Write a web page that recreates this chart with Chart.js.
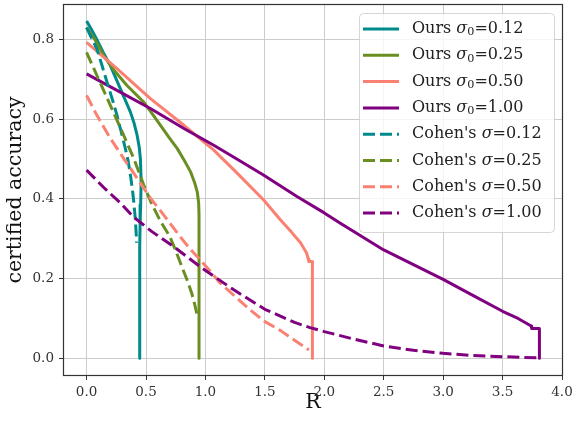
<!DOCTYPE html>
<html><head><meta charset="utf-8">
<script src="https://cdn.jsdelivr.net/npm/chart.js@4/dist/chart.umd.min.js"></script>
<style>html,body{margin:0;padding:0;background:#fff}#wrap{width:573px;height:423px;position:relative}</style>
</head><body><div id="wrap"><canvas id="c" width="573" height="423"></canvas></div>
<script>
// ---- data ----
const xTicks = [0.0, 0.5, 1.0, 1.5, 2.0, 2.5, 3.0, 3.5, 4.0];
const yTicks = [0.0, 0.2, 0.4, 0.6, 0.8];

const seriesLabels = ["Ours σ₀=0.12", "Ours σ₀=0.25", "Ours σ₀=0.50", "Ours σ₀=1.00",
                      "Cohen's σ=0.12", "Cohen's σ=0.25", "Cohen's σ=0.50", "Cohen's σ=1.00"];
const seriesColors = ["#008B8B", "#6B8E23", "#FA8072", "#800080",
                      "#008B8B", "#6B8E23", "#FA8072", "#800080"];

const ours012R   = [0, 0.04, 0.087, 0.14, 0.2, 0.284, 0.33, 0.369, 0.4, 0.425, 0.443, 0.453, 0.459, 0.455, 0.45, 0.447, 0.447];
const ours012Acc = [0.847, 0.826, 0.80, 0.768, 0.735, 0.677, 0.645, 0.618, 0.59, 0.56, 0.53, 0.50, 0.443, 0.385, 0.33, 0.28, 0.0];

const ours025R   = [0, 0.07, 0.143, 0.24, 0.34, 0.481, 0.55, 0.622, 0.69, 0.762, 0.82, 0.875, 0.91, 0.931, 0.943, 0.946, 0.946];
const ours025Acc = [0.831, 0.80, 0.76, 0.72, 0.685, 0.643, 0.615, 0.585, 0.556, 0.527, 0.498, 0.468, 0.44, 0.418, 0.39, 0.36, 0.0];

const ours050R   = [0, 0.256, 0.537, 0.819, 1.07, 1.25, 1.488, 1.63, 1.72, 1.8, 1.85, 1.865, 1.87, 1.9, 1.9];
const ours050Acc = [0.793, 0.727, 0.652, 0.585, 0.5225, 0.47, 0.398, 0.348, 0.318, 0.29, 0.265, 0.25, 0.243, 0.243, 0.0];

const ours100R   = [0, 0.256, 0.537, 0.819, 1.07, 1.25, 1.488, 1.77, 2.0, 2.135, 2.5, 2.75, 3.0, 3.25, 3.5, 3.63, 3.7, 3.74, 3.745, 3.81, 3.81];
const ours100Acc = [0.714, 0.6725, 0.627, 0.577, 0.535, 0.503, 0.46, 0.406, 0.365, 0.339, 0.272, 0.235, 0.198, 0.158, 0.118, 0.10, 0.088, 0.081, 0.075, 0.075, 0.0];

const cohen012R   = [0, 0.04, 0.087, 0.13, 0.172, 0.215, 0.256, 0.29, 0.326, 0.35, 0.369, 0.385, 0.397, 0.41, 0.418, 0.42];
const cohen012Acc = [0.83, 0.805, 0.777, 0.735, 0.693, 0.652, 0.61, 0.57, 0.527, 0.495, 0.46, 0.425, 0.393, 0.35, 0.31, 0.29];

const cohen025R   = [0, 0.087, 0.2, 0.312, 0.397, 0.481, 0.546, 0.62, 0.70, 0.75, 0.80, 0.845, 0.884, 0.91, 0.926, 0.93];
const cohen025Acc = [0.768, 0.71, 0.635, 0.56, 0.502, 0.435, 0.389, 0.345, 0.306, 0.27, 0.231, 0.197, 0.164, 0.135, 0.114, 0.105];

const cohen050R   = [0, 0.087, 0.2, 0.312, 0.425, 0.537, 0.616, 0.7, 0.785, 0.87, 0.954, 1.05, 1.12, 1.25, 1.375, 1.5, 1.63, 1.75, 1.87];
const cohen050Acc = [0.66, 0.61, 0.552, 0.502, 0.452, 0.402, 0.3725, 0.34, 0.306, 0.275, 0.2475, 0.215, 0.19, 0.155, 0.122, 0.092, 0.07, 0.045, 0.021];

const cohen100R   = [0, 0.14, 0.284, 0.39, 0.55, 0.73, 0.95, 1.1, 1.235, 1.5, 1.75, 1.88, 2.0, 2.25, 2.5, 2.75, 3.0, 3.25, 3.5, 3.8];
const cohen100Acc = [0.4725, 0.43, 0.39, 0.356, 0.318, 0.281, 0.231, 0.2, 0.1725, 0.123, 0.09, 0.077, 0.067, 0.048, 0.031, 0.02, 0.0125, 0.007, 0.004, 0.001];

const seriesR   = [ours012R, ours025R, ours050R, ours100R, cohen012R, cohen025R, cohen050R, cohen100R];
const seriesAcc = [ours012Acc, ours025Acc, ours050Acc, ours100Acc, cohen012Acc, cohen025Acc, cohen050Acc, cohen100Acc];

// ---- chart ----
const SERIF = "'DejaVu Serif', serif";
const datasets = seriesLabels.map((lab, i) => ({
  label: lab,
  data: seriesR[i].map((r, k) => ({x: r, y: seriesAcc[i][k]})),
  borderColor: seriesColors[i],
  backgroundColor: seriesColors[i],
  borderWidth: 3,
  borderDash: i >= 4 ? [12, 5] : [],
  borderCapStyle: 'butt',
  borderJoinStyle: 'round',
  pointRadius: 0,
  fill: false,
  tension: 0,
  showLine: true,
  order: -i
}));

const zeroPad = s => { s.paddingLeft = 0; s.paddingRight = 0; s.paddingTop = 0; s.paddingBottom = 0; };

const framePlugin = {
  id: 'frame',
  afterDatasetsDraw(chart) {
    const {ctx, chartArea: a} = chart;
    ctx.save();
    ctx.strokeStyle = '#333';
    ctx.lineWidth = 1.2;
    ctx.strokeRect(a.left - 0.5, a.top - 0.5, a.right - a.left + 1, a.bottom - a.top + 1);
    ctx.restore();
  }
};

const legendPlugin = {
  id: 'mplLegend',
  afterDraw(chart) {
    const ctx = chart.ctx;
    const bx = 359, by = 13, bw = 195, bh = 219, r = 4;
    ctx.save();
    ctx.beginPath();
    ctx.roundRect(bx + 0.5, by + 0.5, bw, bh, r);
    ctx.fillStyle = 'rgba(255,255,255,0.8)';
    ctx.fill();
    ctx.strokeStyle = 'rgba(204,204,204,0.8)';
    ctx.lineWidth = 1;
    ctx.stroke();
    const fs = 16;
    chart.data.datasets.forEach((ds, i) => {
      const y = 29 + i * 26.3;
      ctx.beginPath();
      ctx.setLineDash(ds.borderDash || []);
      ctx.lineCap = 'butt';
      ctx.strokeStyle = ds.borderColor;
      ctx.lineWidth = 3;
      ctx.moveTo(363, y);
      ctx.lineTo(399, y);
      ctx.stroke();
      ctx.setLineDash([]);
      ctx.fillStyle = '#222';
      ctx.textBaseline = 'middle';
      let x = 412;
      const label = ds.label;
      const si = label.indexOf('σ');
      const pre = label.slice(0, si);
      let rest = label.slice(si + 1);
      ctx.font = fs + 'px ' + SERIF;
      ctx.fillText(pre, x, y); x += ctx.measureText(pre).width;
      ctx.font = 'italic ' + fs + 'px ' + SERIF;
      ctx.fillText('σ', x, y); x += ctx.measureText('σ').width;
      if (rest.startsWith('₀')) {
        ctx.font = (fs * 0.7) + 'px ' + SERIF;
        ctx.fillText('0', x, y + 3.5); x += ctx.measureText('0').width;
        rest = rest.slice(1);
      }
      ctx.font = fs + 'px ' + SERIF;
      ctx.fillText(rest, x, y);
    });
    ctx.restore();
  }
};

new Chart(document.getElementById('c'), {
  type: 'scatter',
  data: {datasets},
  options: {
    responsive: false,
    animation: false,
    layout: {padding: {left: 0, top: 5, right: 11, bottom: 0}},
    plugins: {legend: {display: false}, tooltip: {enabled: false}},
    scales: {
      x: {
        type: 'linear', min: -0.19, max: 4.0,
        afterBuildTicks: s => { s.ticks = xTicks.map(v => ({value: v})); },
        afterFit: s => { s.height = 48; zeroPad(s); },
        grid: {color: '#cccccc', lineWidth: 1, tickColor: '#333', tickLength: 5, drawTicks: true},
        border: {display: false},
        ticks: {padding: 4, color: '#333', font: {family: SERIF, size: 13.5}, callback: v => Number(v).toFixed(1), maxRotation: 0, autoSkip: false},
        title: {display: true, text: 'R', color: '#111', font: {family: SERIF, size: 20.5}, padding: {top: 0, bottom: 8}}
      },
      y: {
        type: 'linear', min: -0.042, max: 0.887,
        afterBuildTicks: s => { s.ticks = yTicks.map(v => ({value: v})); },
        afterFit: s => { s.width = 64; zeroPad(s); },
        grid: {color: '#cccccc', lineWidth: 1, tickColor: '#333', tickLength: 5, drawTicks: true},
        border: {display: false},
        ticks: {padding: 5, color: '#333', font: {family: SERIF, size: 13.5}, callback: v => Number(v).toFixed(1), autoSkip: false},
        title: {display: true, text: 'certified accuracy', color: '#111', font: {family: SERIF, size: 20.5}, padding: {top: 3, bottom: 0}}
      }
    }
  },
  plugins: [framePlugin, legendPlugin]
});
</script>
</body></html>
